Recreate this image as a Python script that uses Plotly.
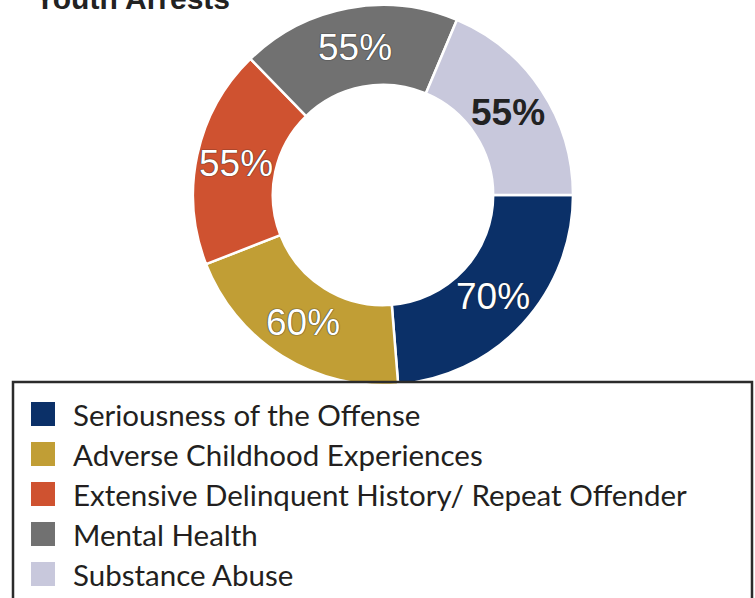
import math
import plotly.graph_objects as go

W, H = 755, 598

categories = [
    "Seriousness of the Offense",
    "Adverse Childhood Experiences",
    "Extensive Delinquent History/ Repeat Offender",
    "Mental Health",
    "Substance Abuse",
]
percentages = [70, 60, 55, 55, 55]
colors = ["#0B3068", "#C19E35", "#CF5230", "#717171", "#C8C8DC"]
label_colors = ["white", "white", "white", "white", "#222222"]
label_bold = [False, False, False, False, True]
title_text = "Youth Arrests"


def px_x(x):
    return x / W


def px_y(y):
    return 1 - y / H


# donut geometry in pixels
cx, cy, r = 383, 195, 190
hole = 0.58
start_angle = 90  # degrees clockwise from 12 o'clock

fig = go.Figure(
    go.Pie(
        labels=categories,
        values=percentages,
        textinfo="none",
        sort=False,
        direction="clockwise",
        rotation=start_angle,
        hole=hole,
        marker=dict(colors=colors, line=dict(color="white", width=2.5)),
        domain=dict(
            x=[px_x(cx - r), px_x(cx + r)],
            y=[px_y(cy + r), px_y(cy - r)],
        ),
        showlegend=False,
        hoverinfo="label+value",
    )
)

shapes = [
    # legend frame
    dict(
        type="rect", xref="paper", yref="paper",
        x0=px_x(13), x1=px_x(752), y0=px_y(382), y1=px_y(640),
        line=dict(color="#2b2b2b", width=2.5), fillcolor="rgba(0,0,0,0)",
    )
]
annotations = [
    dict(
        text=f"<b>{title_text}</b>", xref="paper", yref="paper",
        x=px_x(33), y=px_y(-2), xanchor="left", yanchor="middle",
        showarrow=False,
        font=dict(family="Liberation Sans, Arial, sans-serif", size=30, color="#222222"),
    )
]

# percentage labels at the middle of each ring segment
total = sum(percentages)
r_mid = r * (1 + hole) / 2
acc = 0
for v, fc, bold in zip(percentages, label_colors, label_bold):
    mid = math.radians(start_angle + (acc + v / 2) / total * 360)
    acc += v
    lx = cx + r_mid * math.sin(mid)
    ly = cy - r_mid * math.cos(mid)
    txt = f"{v}%"
    annotations.append(dict(
        text=f"<b>{txt}</b>" if bold else txt,
        xref="paper", yref="paper", x=px_x(lx), y=px_y(ly),
        xanchor="center", yanchor="middle", showarrow=False,
        font=dict(
            family="Liberation Sans, Arial, sans-serif", size=37, color=fc,
            shadow="none" if bold else "0 0 1px #222, 0 0 1px #222",
        ),
    ))

row0, row_step, sq = 414, 40, 24
for i, (name, col) in enumerate(zip(categories, colors)):
    yc = row0 + i * row_step
    shapes.append(dict(
        type="rect", xref="paper", yref="paper",
        x0=px_x(31), x1=px_x(31 + sq), y0=px_y(yc + sq / 2), y1=px_y(yc - sq / 2),
        line=dict(width=0), fillcolor=col,
    ))
    annotations.append(dict(
        text=name, xref="paper", yref="paper",
        x=px_x(71), y=px_y(yc), xanchor="left", yanchor="middle",
        showarrow=False,
        font=dict(family="Lato, sans-serif", size=29.5, color="#231F20"),
    ))

fig.update_layout(
    width=W, height=H,
    margin=dict(l=0, r=0, t=0, b=0),
    paper_bgcolor="white",
    plot_bgcolor="white",
    shapes=shapes,
    annotations=annotations,
)

fig.write_html("out.html")
